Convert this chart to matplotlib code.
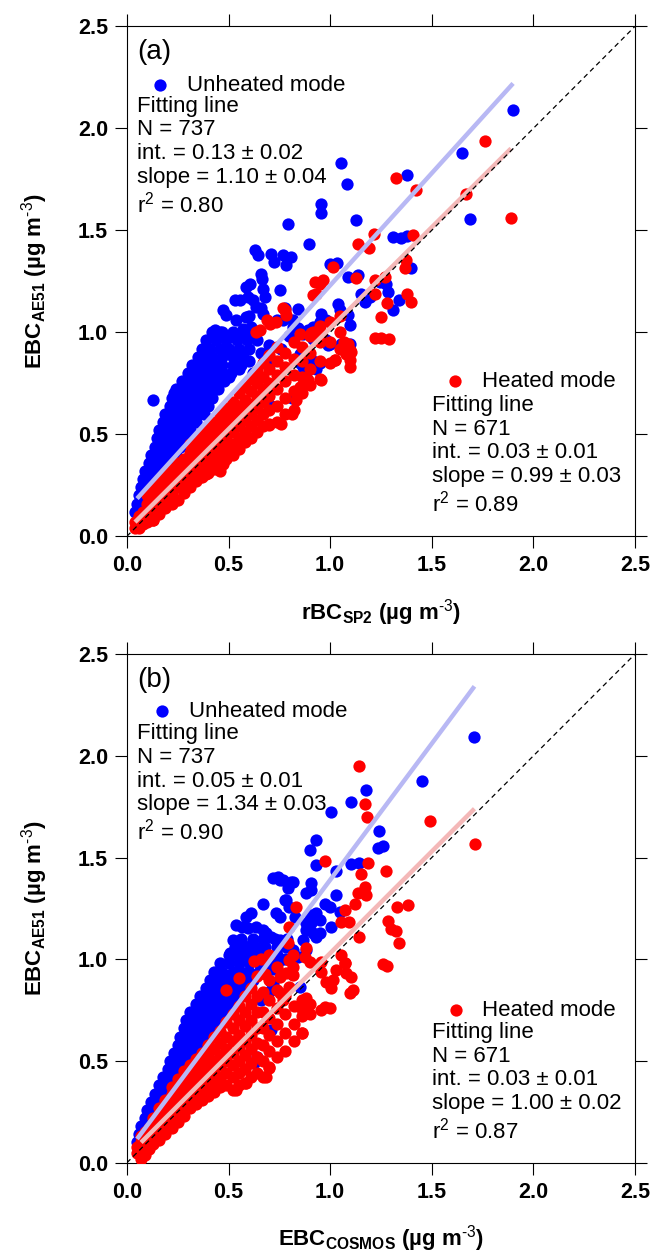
import matplotlib
matplotlib.use("Agg")
import matplotlib.pyplot as plt
import numpy as np

plt.rcParams['font.family'] = ['Liberation Sans', 'DejaVu Sans']
plt.rcParams['mathtext.fontset'] = 'custom'
plt.rcParams['mathtext.rm'] = 'Liberation Sans'
plt.rcParams['mathtext.bf'] = 'Liberation Sans:bold'
plt.rcParams['mathtext.it'] = 'Liberation Sans:italic'

# ------------------ data ------------------
# panel (a): rBC_SP2 (x) vs EBC_AE51 (y)
a_unheated = [
    (0.04, 0.12), (0.06, 0.12), (0.05, 0.16), (0.07, 0.16),
    (0.06, 0.20), (0.08, 0.20), (0.10, 0.20), (0.07, 0.24), (0.09, 0.24), (0.12, 0.24),
    (0.08, 0.28), (0.11, 0.28), (0.14, 0.28), (0.09, 0.32), (0.12, 0.32), (0.15, 0.32), (0.18, 0.32),
    (0.11, 0.36), (0.14, 0.36), (0.17, 0.36), (0.20, 0.36),
    (0.12, 0.40), (0.15, 0.40), (0.18, 0.40), (0.21, 0.40), (0.24, 0.40),
    (0.14, 0.44), (0.17, 0.44), (0.20, 0.44), (0.23, 0.44), (0.26, 0.44),
    (0.15, 0.48), (0.18, 0.48), (0.21, 0.48), (0.24, 0.48), (0.27, 0.48), (0.30, 0.48),
    (0.16, 0.52), (0.19, 0.52), (0.22, 0.52), (0.25, 0.52), (0.28, 0.52), (0.31, 0.52),
    (0.18, 0.56), (0.21, 0.56), (0.24, 0.56), (0.27, 0.56), (0.30, 0.56), (0.34, 0.56),
    (0.19, 0.60), (0.22, 0.60), (0.25, 0.60), (0.28, 0.60), (0.31, 0.60), (0.35, 0.60), (0.38, 0.60),
    (0.21, 0.64), (0.24, 0.64), (0.27, 0.64), (0.30, 0.64), (0.33, 0.64), (0.36, 0.64), (0.40, 0.64),
    (0.22, 0.68), (0.25, 0.68), (0.28, 0.68), (0.31, 0.68), (0.35, 0.68), (0.38, 0.68), (0.42, 0.68),
    (0.24, 0.72), (0.27, 0.72), (0.30, 0.72), (0.33, 0.72), (0.37, 0.72), (0.41, 0.72), (0.45, 0.72),
    (0.27, 0.76), (0.30, 0.76), (0.33, 0.76), (0.36, 0.76), (0.40, 0.76), (0.44, 0.76), (0.48, 0.76),
    (0.30, 0.80), (0.33, 0.80), (0.36, 0.80), (0.39, 0.80), (0.43, 0.80), (0.47, 0.80), (0.51, 0.80),
    (0.32, 0.84), (0.35, 0.84), (0.39, 0.84), (0.43, 0.84), (0.47, 0.84), (0.52, 0.84), (0.56, 0.84),
    (0.35, 0.88), (0.38, 0.88), (0.42, 0.88), (0.47, 0.88), (0.52, 0.88), (0.57, 0.88),
    (0.37, 0.92), (0.41, 0.92), (0.46, 0.92), (0.50, 0.92), (0.55, 0.92), (0.60, 0.92),
    (0.39, 0.96), (0.44, 0.96), (0.49, 0.96), (0.54, 0.96), (0.59, 0.96), (0.64, 0.96),
    (0.42, 1.00), (0.47, 1.00), (0.52, 1.00), (0.57, 1.00), (0.62, 1.00),
    (0.13, 0.67), (0.23, 0.70),
    (0.50, 0.78), (0.55, 0.82), (0.60, 0.86), (0.62, 0.80), (0.66, 0.90), (0.70, 0.94), (0.72, 0.86),
    (0.76, 0.92), (0.71, 0.64), (0.81, 0.68), (0.90, 0.86), (0.93, 0.82), (0.99, 0.94), (0.93, 1.00),
    (0.85, 0.85), (0.95, 0.85), (0.88, 0.78), (0.80, 0.98), (0.84, 1.02), (0.74, 1.06), (0.78, 1.12),
    (0.66, 1.12), (0.60, 1.08),
    (0.473, 1.108), (0.49, 1.083), (0.539, 1.059), (0.588, 1.075), (0.67, 1.092), (0.432, 1.01),
    (0.457, 1.001), (0.572, 1.018), (0.613, 1.026), (0.768, 1.059), (0.817, 1.026), (0.866, 0.994),
    (0.915, 1.026), (0.531, 1.157), (0.555, 1.157), (0.596, 1.173), (0.621, 1.157), (0.637, 1.124),
    (0.588, 1.222), (0.604, 1.239), (0.67, 1.214), (0.678, 1.173), (0.752, 1.206), (0.662, 1.288),
    (0.667, 1.263), (0.629, 1.402), (0.645, 1.377), (0.711, 1.386), (0.722, 1.345), (0.768, 1.377),
    (0.809, 1.369), (0.785, 1.328), (0.793, 1.533), (0.896, 1.435), (0.953, 1.63), (0.953, 1.585),
    (1.055, 1.83), (1.085, 1.725), (1.38, 1.77), (1.65, 1.88), (1.69, 1.555), (1.90, 2.09), (1.128, 1.55),
    (1.31, 1.467), (1.35, 1.46), (1.38, 1.47), (0.998, 1.333), (1.033, 1.342), (1.087, 1.27),
    (1.137, 1.28), (1.40, 1.317), (1.243, 1.247), (1.273, 1.235), (1.284, 1.198), (1.17, 1.149),
    (1.194, 1.173), (1.15, 1.19), (1.338, 1.16), (1.309, 1.108), (1.038, 1.14), (1.047, 1.108),
    (1.087, 1.083), (1.099, 1.034), (0.957, 1.092), (0.981, 1.059), (0.948, 1.05), (0.842, 1.116),
    (0.817, 1.059), (0.891, 1.01), (0.915, 0.969), (0.98, 0.961), (0.998, 0.945), (1.055, 0.945),
    (1.096, 0.945), (0.85, 0.896), (0.866, 0.83), (0.908, 0.871),
]
a_heated = [
    (0.04, 0.04), (0.04, 0.07), (0.06, 0.04), (0.06, 0.07), (0.06, 0.10),
    (0.08, 0.06), (0.08, 0.09), (0.08, 0.12),
    (0.10, 0.07), (0.10, 0.10), (0.10, 0.13), (0.10, 0.16), (0.10, 0.20),
    (0.13, 0.08), (0.13, 0.13), (0.13, 0.17), (0.13, 0.21), (0.13, 0.24),
    (0.16, 0.11), (0.16, 0.16), (0.16, 0.20), (0.16, 0.24), (0.16, 0.27),
    (0.19, 0.14), (0.19, 0.19), (0.19, 0.23), (0.19, 0.27), (0.19, 0.31),
    (0.22, 0.16), (0.22, 0.21), (0.22, 0.25), (0.22, 0.29), (0.22, 0.33),
    (0.25, 0.18), (0.25, 0.24), (0.25, 0.28), (0.25, 0.32), (0.25, 0.36),
    (0.28, 0.21), (0.28, 0.26), (0.28, 0.30), (0.28, 0.34), (0.28, 0.38),
    (0.31, 0.24), (0.31, 0.29), (0.31, 0.33), (0.31, 0.37), (0.31, 0.41), (0.31, 0.45),
    (0.34, 0.27), (0.34, 0.31), (0.34, 0.35), (0.34, 0.39), (0.34, 0.43), (0.34, 0.47),
    (0.37, 0.29), (0.37, 0.33), (0.37, 0.37), (0.37, 0.41), (0.37, 0.45), (0.37, 0.50),
    (0.40, 0.31), (0.40, 0.35), (0.40, 0.40), (0.40, 0.44), (0.40, 0.48), (0.40, 0.53),
    (0.43, 0.33), (0.43, 0.38), (0.43, 0.42), (0.43, 0.47), (0.43, 0.51), (0.43, 0.56),
    (0.46, 0.35), (0.46, 0.40), (0.46, 0.45), (0.46, 0.50), (0.46, 0.55), (0.46, 0.60),
    (0.49, 0.38), (0.49, 0.43), (0.49, 0.48), (0.49, 0.53), (0.49, 0.58), (0.49, 0.63),
    (0.52, 0.40), (0.52, 0.45), (0.52, 0.51), (0.52, 0.56), (0.52, 0.61), (0.52, 0.66),
    (0.55, 0.43), (0.55, 0.48), (0.55, 0.54), (0.55, 0.59), (0.55, 0.64), (0.55, 0.70),
    (0.58, 0.46), (0.58, 0.51), (0.58, 0.57), (0.58, 0.62), (0.58, 0.67), (0.58, 0.73),
    (0.61, 0.48), (0.61, 0.54), (0.61, 0.60), (0.61, 0.65), (0.61, 0.71), (0.61, 0.77),
    (0.64, 0.51), (0.64, 0.57), (0.64, 0.63), (0.64, 0.69), (0.64, 0.75), (0.64, 0.81),
    (0.67, 0.54), (0.67, 0.60), (0.67, 0.66), (0.67, 0.72), (0.67, 0.78), (0.67, 0.85),
    (0.70, 0.55), (0.70, 0.62), (0.70, 0.69), (0.70, 0.75), (0.70, 0.82), (0.70, 0.89),
    (0.74, 0.56), (0.74, 0.64), (0.74, 0.72), (0.74, 0.79), (0.74, 0.86), (0.74, 0.93),
    (0.78, 0.60), (0.78, 0.68), (0.78, 0.76), (0.78, 0.83), (0.78, 0.90),
    (0.82, 0.62), (0.82, 0.71), (0.82, 0.79), (0.82, 0.87), (0.82, 0.95),
    (0.86, 0.70), (0.86, 0.78), (0.86, 0.86), (0.86, 0.93),
    (0.90, 0.74), (0.90, 0.82), (0.90, 0.90), (0.90, 0.98),
    (0.95, 0.77), (0.95, 0.86), (0.95, 0.95), (0.95, 1.03),
    (1.00, 0.85), (1.00, 0.95), (1.00, 1.05), (1.05, 0.92), (1.05, 1.00), (1.05, 1.08),
    (0.776, 1.108), (0.785, 1.083), (0.736, 1.05), (0.703, 1.042), (0.654, 1.01), (0.637, 1.001),
    (0.85, 0.994), (0.915, 1.001), (0.924, 1.247), (0.915, 1.181), (0.767, 1.117), (0.687, 1.06),
    (0.83, 0.667), (0.85, 0.73), (0.89, 0.765), (0.953, 0.765), (1.024, 0.863), (1.096, 0.912),
    (1.07, 0.95), (1.219, 0.974), (1.251, 0.972), (1.289, 0.969), (0.908, 0.997), (0.957, 0.994),
    (1.087, 0.945), (1.104, 0.904), (1.08, 0.896), (1.022, 0.866), (1.096, 0.863), (1.096, 0.83),
    (1.281, 1.144), (1.251, 1.075), (1.377, 1.19), (1.40, 1.149), (1.366, 1.317), (1.374, 1.353),
    (1.219, 1.255), (1.219, 1.186), (1.268, 1.271), (1.128, 1.267), (0.965, 1.255), (0.95, 1.239),
    (0.929, 1.19), (1.014, 1.32), (1.137, 1.435), (1.19, 1.415), (1.215, 1.48), (1.41, 1.475),
    (1.325, 1.758), (1.424, 1.70), (1.67, 1.68), (1.76, 1.94), (1.89, 1.562),
    (0.473, 0.356), (0.39, 0.307), (0.457, 0.32), (0.36, 0.29), (0.244, 0.176), (0.13, 0.078),
    (0.697, 0.544), (0.757, 0.55), (0.81, 0.60),
]

# panel (b): EBC_COSMOS (x) vs EBC_AE51 (y)
b_unheated = [
    (0.05, 0.10), (0.07, 0.10), (0.06, 0.14), (0.08, 0.14), (0.10, 0.14),
    (0.07, 0.18), (0.09, 0.18), (0.12, 0.18), (0.09, 0.22), (0.11, 0.22), (0.14, 0.22),
    (0.10, 0.26), (0.13, 0.26), (0.16, 0.26), (0.19, 0.26),
    (0.12, 0.30), (0.15, 0.30), (0.18, 0.30), (0.21, 0.30),
    (0.14, 0.34), (0.17, 0.34), (0.20, 0.34), (0.23, 0.34),
    (0.16, 0.38), (0.19, 0.38), (0.22, 0.38), (0.26, 0.38),
    (0.18, 0.42), (0.21, 0.42), (0.24, 0.42), (0.28, 0.42),
    (0.20, 0.46), (0.23, 0.46), (0.26, 0.46), (0.30, 0.46),
    (0.21, 0.50), (0.24, 0.50), (0.27, 0.50), (0.30, 0.50), (0.33, 0.50),
    (0.23, 0.54), (0.26, 0.54), (0.29, 0.54), (0.32, 0.54), (0.36, 0.54),
    (0.25, 0.58), (0.28, 0.58), (0.31, 0.58), (0.34, 0.58), (0.38, 0.58),
    (0.26, 0.62), (0.29, 0.62), (0.32, 0.62), (0.35, 0.62), (0.39, 0.62), (0.42, 0.62),
    (0.28, 0.66), (0.31, 0.66), (0.34, 0.66), (0.37, 0.66), (0.41, 0.66), (0.45, 0.66),
    (0.29, 0.70), (0.32, 0.70), (0.35, 0.70), (0.39, 0.70), (0.43, 0.70), (0.47, 0.70),
    (0.31, 0.74), (0.34, 0.74), (0.37, 0.74), (0.41, 0.74), (0.45, 0.74), (0.49, 0.74),
    (0.34, 0.78), (0.37, 0.78), (0.40, 0.78), (0.44, 0.78), (0.48, 0.78), (0.52, 0.78),
    (0.36, 0.82), (0.40, 0.82), (0.44, 0.82), (0.48, 0.82), (0.52, 0.82), (0.56, 0.82),
    (0.39, 0.86), (0.43, 0.86), (0.47, 0.86), (0.51, 0.86), (0.55, 0.86), (0.59, 0.86),
    (0.41, 0.90), (0.45, 0.90), (0.49, 0.90), (0.53, 0.90), (0.57, 0.90), (0.62, 0.90),
    (0.43, 0.94), (0.47, 0.94), (0.52, 0.94), (0.56, 0.94), (0.60, 0.94), (0.65, 0.94),
    (0.46, 0.98), (0.50, 0.98), (0.55, 0.98), (0.60, 0.98), (0.65, 0.98), (0.70, 0.98),
    (0.50, 1.02), (0.54, 1.02), (0.59, 1.02), (0.64, 1.02), (0.69, 1.02), (0.74, 1.02),
    (0.53, 1.06), (0.58, 1.06), (0.63, 1.06), (0.68, 1.06), (0.74, 1.06), (0.80, 1.06),
    (0.56, 1.10), (0.62, 1.10), (0.67, 1.10), (0.73, 1.10), (0.79, 1.10),
    (0.707, 0.89), (0.88, 1.046), (0.81, 0.93), (0.625, 0.49), (0.64, 0.52), (0.707, 0.653),
    (0.66, 0.80), (0.72, 0.95), (0.78, 1.00), (0.70, 0.84), (0.72, 0.88),
    (1.451, 1.878), (1.174, 1.832), (1.104, 1.772), (1.006, 1.726), (1.238, 1.631), (1.235, 1.549),
    (1.26, 1.559), (0.932, 1.586), (0.899, 1.537), (0.929, 1.464), (1.104, 1.469), (1.14, 1.472),
    (1.027, 1.436), (1.03, 1.316), (0.973, 1.272), (0.998, 1.259), (1.047, 1.231), (1.006, 1.161),
    (0.948, 1.128), (0.932, 1.111), (0.752, 1.39), (0.817, 1.382), (0.908, 1.374), (0.883, 1.325),
    (0.785, 1.292), (0.826, 1.21), (0.899, 1.218), (0.908, 1.177), (0.883, 1.144), (0.866, 1.095),
    (0.932, 1.226), (0.948, 1.194), (0.817, 1.046), (0.842, 1.013), (0.752, 0.997), (0.85, 0.866),
    (0.719, 1.398), (0.743, 1.406), (0.768, 1.39), (0.809, 1.382), (0.793, 1.349), (0.908, 1.341),
    (0.67, 1.272), (0.613, 1.226), (0.588, 1.21), (0.776, 1.292), (0.80, 1.259), (0.736, 1.226),
    (0.752, 1.21), (0.539, 1.169), (0.564, 1.161), (0.596, 1.153), (0.637, 1.161), (0.67, 1.144),
    (0.686, 1.128), (0.522, 1.095), (0.555, 1.062), (0.613, 1.071), (0.711, 1.111), (0.752, 1.095),
    (0.785, 1.062), (0.506, 1.03), (0.588, 1.03), (0.654, 1.03), (0.883, 1.177), (0.915, 1.128),
    (1.71, 2.09),
]
b_heated = [
    (0.05, 0.05), (0.05, 0.08), (0.07, 0.02), (0.07, 0.07), (0.07, 0.10), (0.07, 0.13),
    (0.09, 0.04), (0.09, 0.09), (0.09, 0.12), (0.09, 0.15),
    (0.11, 0.07), (0.11, 0.11), (0.11, 0.14), (0.11, 0.17),
    (0.13, 0.09), (0.13, 0.13), (0.13, 0.16), (0.13, 0.19), (0.13, 0.22),
    (0.16, 0.11), (0.16, 0.16), (0.16, 0.20), (0.16, 0.24), (0.16, 0.27),
    (0.19, 0.14), (0.19, 0.19), (0.19, 0.23), (0.19, 0.27), (0.19, 0.31),
    (0.22, 0.17), (0.22, 0.22), (0.22, 0.26), (0.22, 0.30), (0.22, 0.34), (0.22, 0.37),
    (0.25, 0.20), (0.25, 0.25), (0.25, 0.29), (0.25, 0.33), (0.25, 0.37), (0.25, 0.41),
    (0.28, 0.23), (0.28, 0.28), (0.28, 0.32), (0.28, 0.36), (0.28, 0.40), (0.28, 0.45),
    (0.31, 0.27), (0.31, 0.31), (0.31, 0.35), (0.31, 0.39), (0.31, 0.43), (0.31, 0.48),
    (0.34, 0.29), (0.34, 0.33), (0.34, 0.37), (0.34, 0.41), (0.34, 0.46), (0.34, 0.51),
    (0.37, 0.31), (0.37, 0.35), (0.37, 0.40), (0.37, 0.44), (0.37, 0.49), (0.37, 0.54),
    (0.40, 0.33), (0.40, 0.38), (0.40, 0.43), (0.40, 0.48), (0.40, 0.53), (0.40, 0.58),
    (0.43, 0.35), (0.43, 0.40), (0.43, 0.45), (0.43, 0.50), (0.43, 0.56), (0.43, 0.62),
    (0.46, 0.37), (0.46, 0.42), (0.46, 0.48), (0.46, 0.53), (0.46, 0.59), (0.46, 0.65),
    (0.49, 0.38), (0.49, 0.44), (0.49, 0.50), (0.49, 0.56), (0.49, 0.62), (0.49, 0.69),
    (0.52, 0.36), (0.52, 0.42), (0.52, 0.48), (0.52, 0.54), (0.52, 0.60), (0.52, 0.66), (0.52, 0.73),
    (0.55, 0.38), (0.55, 0.44), (0.55, 0.50), (0.55, 0.57), (0.55, 0.63), (0.55, 0.70), (0.55, 0.77),
    (0.58, 0.39), (0.58, 0.46), (0.58, 0.53), (0.58, 0.60), (0.58, 0.67), (0.58, 0.74), (0.58, 0.82),
    (0.61, 0.42), (0.61, 0.49), (0.61, 0.56), (0.61, 0.63), (0.61, 0.70), (0.61, 0.78), (0.61, 0.86),
    (0.64, 0.44), (0.64, 0.52), (0.64, 0.59), (0.64, 0.66), (0.64, 0.74), (0.64, 0.82), (0.64, 0.92),
    (0.67, 0.42), (0.67, 0.50), (0.67, 0.58), (0.67, 0.66), (0.67, 0.74), (0.67, 0.84),
    (0.70, 0.47), (0.70, 0.55), (0.70, 0.63), (0.70, 0.71), (0.70, 0.80), (0.70, 0.90),
    (0.74, 0.52), (0.74, 0.60), (0.74, 0.68), (0.74, 0.76), (0.74, 0.85),
    (0.78, 0.55), (0.78, 0.64), (0.78, 0.73), (0.78, 0.82),
    (0.82, 0.60), (0.82, 0.68), (0.82, 0.77), (0.86, 0.64), (0.86, 0.72), (0.86, 0.80),
    (0.90, 0.73), (0.90, 0.78),
    (0.625, 0.99), (0.553, 0.91), (0.49, 0.85), (0.66, 1.00), (0.70, 1.02), (0.74, 0.96), (0.68, 0.93),
    (0.86, 0.64), (0.89, 0.735), (0.953, 0.75), (0.70, 0.465), (0.686, 0.424), (0.588, 0.391),
    (0.539, 0.358), (0.424, 0.358),
    (1.14, 1.95), (1.173, 1.762), (1.183, 1.701), (1.489, 1.681), (1.713, 1.565), (0.976, 1.483),
    (1.186, 1.475), (1.276, 1.434), (1.153, 1.418), (1.17, 1.357), (1.178, 1.316), (1.137, 1.325),
    (1.12, 1.272), (1.075, 1.243), (1.328, 1.256), (1.382, 1.266), (1.055, 1.185), (1.091, 1.185),
    (1.284, 1.189), (1.30, 1.148), (1.325, 1.141), (1.14, 1.111), (1.337, 1.079), (0.834, 1.259),
    (0.80, 1.161), (0.793, 1.079), (0.883, 1.055), (0.817, 1.022), (1.26, 0.976), (1.279, 0.969),
    (0.957, 0.986), (0.899, 0.989), (0.875, 1.013), (1.071, 0.981), (1.08, 0.932), (1.03, 0.948),
    (1.014, 0.899), (1.006, 0.858), (1.104, 0.915), (1.112, 0.85), (1.096, 0.834), (0.957, 0.94),
    (0.981, 0.89), (0.973, 0.768), (0.998, 0.76), (0.883, 0.809), (0.891, 0.776), (0.85, 0.768),
    (0.80, 0.997), (0.817, 0.964), (0.817, 0.923), (0.785, 0.932), (0.752, 0.915), (0.80, 0.866),
    (0.752, 0.833), (0.768, 0.80), (1.055, 1.02), (1.075, 0.98),
]

# fitted lines: intercept, slope, x start, x end
a_fits = {'unheated': (0.13, 1.10, 0.05, 1.90), 'heated': (0.03, 0.99, 0.04, 1.89)}
b_fits = {'unheated': (0.05, 1.34, 0.05, 1.71), 'heated': (0.03, 1.00, 0.07, 1.71)}

a_unheated_text = ['Fitting line', 'N = 737', 'int. = 0.13 ± 0.02', 'slope = 1.10 ± 0.04', 'r$^\\mathrm{2}$ = 0.80']
a_heated_text = ['Fitting line', 'N = 671', 'int. = 0.03 ± 0.01', 'slope = 0.99 ± 0.03', 'r$^\\mathrm{2}$ = 0.89']
b_unheated_text = ['Fitting line', 'N = 737', 'int. = 0.05 ± 0.01', 'slope = 1.34 ± 0.03', 'r$^\\mathrm{2}$ = 0.90']
b_heated_text = ['Fitting line', 'N = 671', 'int. = 0.03 ± 0.01', 'slope = 1.00 ± 0.02', 'r$^\\mathrm{2}$ = 0.87']

ticks = [0.0, 0.5, 1.0, 1.5, 2.0, 2.5]
tick_labels = ['0.0', '0.5', '1.0', '1.5', '2.0', '2.5']

BLUE = '#0000ff'
RED = '#ff0000'
BLUE_FIT = '#b8b8f4'
RED_FIT = '#f4b8b8'
TXT = 16
UNIT = ' (µg m$^\\mathrm{\u20103}$)'


# ------------------ panel drawing ------------------
def draw_panel(ax, blue_pts, red_pts, fits, tag, xlabel, blue_text, red_text, blue_leg, red_leg):
    bx, by = np.array(blue_pts).T
    rx, ry = np.array(red_pts).T
    hb = ax.scatter(bx, by, s=78, color=BLUE, linewidths=0, zorder=2)
    hr = ax.scatter(rx, ry, s=78, color=RED, linewidths=0, zorder=3)

    for key, col in [('unheated', BLUE_FIT), ('heated', RED_FIT)]:
        b0, b1, x0, x1 = fits[key]
        xs = np.array([x0, x1])
        ax.plot(xs, b0 + b1 * xs, color=col, lw=3.2, solid_capstyle='butt', zorder=4)
    ax.axline((0, 0), slope=1, color='k', lw=0.9, ls=(0, (4, 3)), zorder=5)

    ax.set_xlim(0, 2.5)
    ax.set_ylim(0, 2.5)
    ax.set_xticks(ticks)
    ax.set_yticks(ticks)
    ax.set_xticklabels(tick_labels, fontweight='bold')
    ax.set_yticklabels(tick_labels, fontweight='bold')
    ax.tick_params(direction='out', length=8.5, width=0.8, top=True, right=True,
                   labelsize=15.5, pad=5)
    for sp in ax.spines.values():
        sp.set_linewidth(0.8)

    ax.set_xlabel(xlabel, fontsize=16, fontweight='bold', labelpad=15)
    ax.set_ylabel('EBC$_\\mathbf{AE51}$' + UNIT, fontsize=16,
                  fontweight='bold', labelpad=20)

    ax.text(0.02, 0.949, tag, transform=ax.transAxes, fontsize=20, va='center', ha='left')

    leg1 = ax.legend([hb], ['Unheated mode'], loc='center left', bbox_to_anchor=blue_leg,
                     frameon=False, borderpad=0, borderaxespad=0, handlelength=1.0,
                     handletextpad=0.7, fontsize=TXT, scatterpoints=1)
    ax.add_artist(leg1)
    ax.legend([hr], ['Heated mode'], loc='center left', bbox_to_anchor=red_leg,
              frameon=False, borderpad=0, borderaxespad=0, handlelength=1.0,
              handletextpad=0.7, fontsize=TXT, scatterpoints=1)

    ax.text(0.02, 0.864, '\n'.join(blue_text), transform=ax.transAxes, va='top', ha='left',
            fontsize=TXT, linespacing=1.17)
    ax.text(0.60, 0.277, '\n'.join(red_text), transform=ax.transAxes, va='top', ha='left',
            fontsize=TXT, linespacing=1.17)


fig = plt.figure(figsize=(6.54, 12.53), dpi=100)
ax_a = fig.add_axes([0.194, 0.572, 0.777, 0.407])
ax_b = fig.add_axes([0.194, 0.072, 0.777, 0.406])

draw_panel(ax_a, a_unheated, a_heated, a_fits, '(a)',
           'rBC$_\\mathbf{SP2}$' + UNIT,
           a_unheated_text, a_heated_text, (0.043, 0.884), (0.624, 0.304))
draw_panel(ax_b, b_unheated, b_heated, b_fits, '(b)',
           'EBC$_\\mathbf{COSMOS}$' + UNIT,
           b_unheated_text, b_heated_text, (0.047, 0.887), (0.625, 0.299))

fig.savefig('out.png', dpi=100)
plt.close(fig)
